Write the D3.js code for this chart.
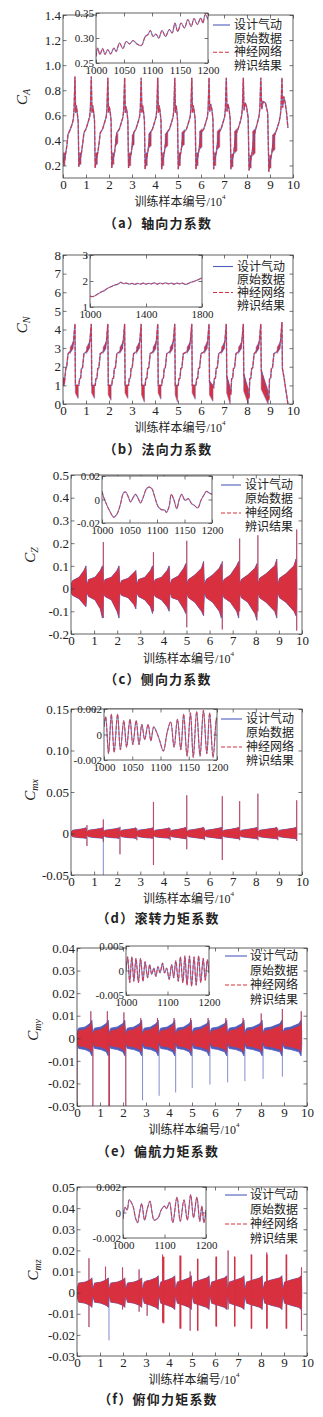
<!DOCTYPE html>
<html><head><meta charset="utf-8">
<script src="https://cdn.jsdelivr.net/npm/d3@7"></script>
<style>body{margin:0;background:#fff}svg{display:block}</style>
</head><body>
<svg id="c" width="323" height="1417"></svg>
<script>
// ---------------- DATA ----------------
const xTickVals = [0,1,2,3,4,5,6,7,8,9,10];
const legendLabels = ["设计气动","原始数据","神经网络","辨识结果"];
const captions = ["（a）轴向力系数","（b）法向力系数","（c）侧向力系数","（d）滚转力矩系数","（e）偏航力矩系数","（f）俯仰力矩系数"];
const xTitle = "训练样本编号/10";

// (a) C_A main series [x(1e4), value]
const caPts = [
 [0,0.22],[0.04,0.26],[0.08,0.25],[0.12,0.30],[0.17,0.36],[0.22,0.45],[0.30,0.48],[0.40,0.53],[0.45,0.57],[0.48,0.64],[0.52,0.91],[0.55,0.62],[0.58,0.68],[0.62,0.62],[0.66,0.55],[0.69,0.19],
 [0.73,0.25],[0.77,0.27],[0.81,0.31],[0.86,0.38],[0.91,0.46],[1.00,0.49],[1.10,0.55],[1.16,0.59],[1.19,0.65],[1.23,0.91],[1.26,0.62],[1.29,0.68],[1.33,0.63],[1.37,0.56],[1.40,0.18],
 [1.44,0.25],[1.48,0.27],[1.52,0.31],[1.57,0.38],[1.62,0.46],[1.72,0.49],[1.82,0.55],[1.88,0.59],[1.91,0.65],[1.95,0.90],[1.98,0.62],[2.01,0.67],[2.05,0.63],[2.09,0.56],[2.12,0.18],
 [2.16,0.25],[2.20,0.27],[2.24,0.30],[2.29,0.38],[2.34,0.46],[2.45,0.49],[2.55,0.55],[2.61,0.59],[2.64,0.65],[2.68,0.90],[2.71,0.62],[2.74,0.67],[2.78,0.63],[2.82,0.56],[2.85,0.18],
 [2.89,0.24],[2.93,0.27],[2.97,0.30],[3.02,0.38],[3.07,0.46],[3.17,0.49],[3.27,0.55],[3.33,0.59],[3.36,0.65],[3.40,0.90],[3.43,0.62],[3.46,0.68],[3.50,0.63],[3.54,0.56],[3.57,0.17],
 [3.61,0.24],[3.65,0.27],[3.69,0.31],[3.74,0.38],[3.79,0.46],[3.89,0.49],[3.99,0.55],[4.05,0.59],[4.08,0.65],[4.12,0.90],[4.15,0.62],[4.18,0.68],[4.22,0.63],[4.26,0.56],[4.29,0.17],
 [4.33,0.24],[4.37,0.27],[4.41,0.31],[4.46,0.38],[4.51,0.46],[4.63,0.49],[4.73,0.55],[4.79,0.59],[4.82,0.65],[4.86,0.90],[4.89,0.62],[4.92,0.68],[4.95,0.63],[4.98,0.56],[5.01,0.17],
 [5.05,0.24],[5.09,0.27],[5.13,0.31],[5.18,0.38],[5.23,0.46],[5.37,0.49],[5.47,0.55],[5.53,0.59],[5.56,0.65],[5.60,0.90],[5.63,0.62],[5.66,0.68],[5.70,0.64],[5.75,0.56],[5.78,0.17],
 [5.82,0.24],[5.86,0.27],[5.90,0.31],[5.95,0.38],[6.00,0.46],[6.12,0.49],[6.22,0.55],[6.28,0.59],[6.31,0.65],[6.35,0.90],[6.38,0.63],[6.42,0.69],[6.47,0.65],[6.52,0.57],[6.55,0.17],
 [6.59,0.24],[6.63,0.27],[6.67,0.31],[6.72,0.38],[6.77,0.46],[6.87,0.49],[6.97,0.55],[7.03,0.59],[7.06,0.65],[7.10,0.90],[7.13,0.63],[7.17,0.69],[7.22,0.65],[7.27,0.57],[7.30,0.17],
 [7.34,0.23],[7.38,0.26],[7.42,0.30],[7.47,0.37],[7.52,0.45],[7.61,0.49],[7.71,0.55],[7.77,0.60],[7.80,0.66],[7.84,0.90],[7.87,0.64],[7.92,0.70],[7.98,0.67],[8.05,0.58],[8.09,0.16],
 [8.13,0.22],[8.17,0.25],[8.21,0.29],[8.26,0.36],[8.31,0.44],[8.38,0.49],[8.48,0.56],[8.53,0.60],[8.56,0.66],[8.60,0.90],[8.64,0.65],[8.70,0.71],[8.80,0.70],[8.90,0.62],[8.95,0.15],
 [8.99,0.22],[9.03,0.25],[9.07,0.29],[9.12,0.36],[9.17,0.43],[9.28,0.48],[9.40,0.55],[9.45,0.60],[9.48,0.66],[9.52,0.90],[9.55,0.66],[9.60,0.75],[9.66,0.70],[9.72,0.62],[9.78,0.50]
];
// (a) thick oscillating stretches [x0, x1, hiStart, hiEnd, loStart, loEnd]
const caBands = [
 [0.02,0.08,0.30,0.30,0.20,0.20],[0.72,0.78,0.30,0.30,0.21,0.21],[1.43,1.49,0.30,0.30,0.21,0.21],[2.15,2.21,0.30,0.30,0.21,0.21],
 [2.88,2.94,0.30,0.30,0.20,0.20],[3.60,3.66,0.30,0.30,0.20,0.20],[4.32,4.38,0.30,0.30,0.20,0.20],[5.04,5.10,0.30,0.30,0.20,0.20],
 [5.81,5.87,0.30,0.30,0.20,0.20],[6.58,6.64,0.30,0.30,0.20,0.20],[7.33,7.39,0.29,0.29,0.19,0.19],[8.12,8.18,0.28,0.28,0.18,0.18],[8.98,9.04,0.28,0.28,0.18,0.18],
 [2.30,2.38,0.43,0.45,0.36,0.38],[3.01,3.09,0.44,0.46,0.35,0.37],[3.73,3.83,0.45,0.47,0.34,0.36],[4.45,4.55,0.45,0.47,0.34,0.36],
 [5.17,5.27,0.46,0.48,0.35,0.37],[5.94,6.04,0.47,0.49,0.33,0.35],[6.71,6.81,0.47,0.49,0.33,0.35],[7.46,7.56,0.47,0.49,0.30,0.32],
 [8.25,8.35,0.47,0.49,0.28,0.30],[9.11,9.21,0.44,0.46,0.31,0.33]
];
// (a) inset, samples 1000-1200
const caInX = [1000,1003,1007,1012,1016,1021,1026,1032,1036,1042,1048,1054,1060,1066,1073,1081,1088,1093,1097,1102,1107,1112,1118,1124,1131,1136,1141,1146,1152,1158,1164,1170,1175,1181,1187,1191,1195,1200];
const caInY = [0.263,0.280,0.267,0.279,0.267,0.277,0.268,0.280,0.273,0.290,0.279,0.293,0.288,0.295,0.288,0.285,0.303,0.307,0.315,0.303,0.308,0.300,0.315,0.303,0.317,0.310,0.330,0.313,0.330,0.320,0.337,0.323,0.339,0.327,0.340,0.330,0.347,0.337];

// (b) C_N main series
const cnPts = [
 [0,1.2],[0.03,1.4],[0.06,1.1],[0.09,1.5],[0.12,1.9],[0.16,2.0],[0.22,2.7],[0.30,2.8],[0.40,3.0],[0.46,3.4],[0.52,4.3],[0.54,1.0],
 [0.69,1.0],[0.72,1.35],[0.77,1.4],[0.80,1.9],[0.85,1.95],[0.91,2.7],[1.01,2.8],[1.11,3.0],[1.17,3.4],[1.23,4.3],[1.25,1.0],
 [1.40,1.0],[1.43,1.35],[1.48,1.4],[1.51,1.9],[1.56,1.95],[1.62,2.7],[1.73,2.8],[1.83,3.0],[1.89,3.4],[1.95,4.3],[1.97,1.0],
 [2.12,1.0],[2.15,1.35],[2.20,1.4],[2.23,1.9],[2.28,1.95],[2.34,2.7],[2.46,2.8],[2.56,3.0],[2.62,3.4],[2.68,4.3],[2.70,1.0],
 [2.85,1.0],[2.88,1.35],[2.93,1.4],[2.96,1.9],[3.01,1.95],[3.07,2.7],[3.18,2.8],[3.28,3.0],[3.34,3.4],[3.40,4.3],[3.42,1.0],
 [3.57,1.0],[3.60,1.35],[3.65,1.4],[3.68,1.9],[3.73,1.95],[3.79,2.7],[3.90,2.8],[4.00,3.0],[4.06,3.4],[4.12,4.3],[4.14,1.0],
 [4.29,1.0],[4.32,1.35],[4.37,1.4],[4.40,1.9],[4.45,1.95],[4.51,2.7],[4.64,2.8],[4.74,3.0],[4.80,3.4],[4.86,4.3],[4.88,1.0],
 [5.01,1.0],[5.04,1.35],[5.09,1.4],[5.12,1.9],[5.17,1.95],[5.23,2.7],[5.38,2.8],[5.48,3.0],[5.54,3.4],[5.60,4.3],[5.62,1.0],
 [5.78,1.0],[5.81,1.35],[5.86,1.4],[5.89,1.9],[5.94,1.95],[6.00,2.7],[6.13,2.8],[6.23,3.0],[6.29,3.4],[6.35,4.3],[6.37,1.2],
 [6.55,0.9],[6.58,1.35],[6.63,1.4],[6.66,1.9],[6.71,1.95],[6.77,2.7],[6.88,2.8],[6.98,3.0],[7.04,3.4],[7.10,4.3],[7.12,1.5],
 [7.30,0.5],[7.33,1.35],[7.38,1.4],[7.41,1.9],[7.46,1.95],[7.52,2.7],[7.62,2.8],[7.72,3.0],[7.78,3.4],[7.84,4.3],[7.86,1.6],
 [8.09,0.3],[8.12,1.35],[8.17,1.4],[8.20,1.9],[8.25,1.95],[8.31,2.7],[8.38,2.8],[8.48,3.0],[8.54,3.4],[8.60,4.3],[8.62,1.8],
 [8.95,0.2],[8.98,1.35],[9.03,1.4],[9.06,1.9],[9.11,1.95],[9.17,2.7],[9.30,2.8],[9.40,3.0],[9.46,3.4],[9.52,4.4],[9.54,1.9],[9.60,1.5],[9.78,0.0]
];
const cnBands = [
 [0.54,0.66,1.0,1.0,0.6,0.3],[1.25,1.37,1.0,1.0,0.6,0.3],[1.97,2.09,1.0,1.0,0.5,0.2],[2.70,2.82,1.0,1.0,0.6,0.3],
 [3.42,3.54,1.0,1.0,0.5,0.1],[4.14,4.26,1.0,1.0,0.6,0.25],[4.88,4.98,1.0,1.0,0.5,0.1],[5.62,5.75,1.0,1.0,0.6,0.25],
 [6.37,6.52,1.2,1.0,0.5,0.15],[7.12,7.27,1.5,0.9,0.6,0.0],[7.86,8.06,1.6,0.8,0.7,0.0],[8.62,8.92,1.8,0.7,0.8,0.0],
 [0.00,0.06,1.4,1.4,1.0,1.0],
 [0.32,0.44,3.05,3.3,2.75,3.0],[1.03,1.15,3.05,3.3,2.75,3.0],[1.75,1.87,3.05,3.3,2.75,3.0],[2.48,2.60,3.05,3.3,2.75,3.0],
 [3.20,3.32,3.05,3.3,2.75,3.0],[3.92,4.04,3.05,3.3,2.75,3.0],[4.66,4.78,3.05,3.3,2.75,3.0],[5.40,5.52,3.05,3.3,2.75,3.0],
 [6.15,6.27,3.05,3.3,2.75,3.0],[6.90,7.02,3.05,3.3,2.75,3.0],[7.64,7.76,3.05,3.3,2.75,3.0],[8.40,8.52,3.05,3.3,2.75,3.0],[9.32,9.44,3.05,3.3,2.75,3.0]
];
const cnInX = [1000,1020,1050,1080,1100,1120,1150,1180,1200,1220,1240,1260,1280,1300,1320,1340,1360,1380,1400,1420,1440,1460,1480,1500,1520,1540,1560,1580,1600,1620,1640,1660,1680,1700,1720,1740,1760,1780,1800];
const cnInY = [1.42,1.40,1.48,1.58,1.62,1.70,1.78,1.85,1.88,1.95,1.90,1.92,1.88,1.91,1.87,1.91,1.88,1.92,1.88,1.91,1.89,1.93,1.88,1.92,1.89,1.93,1.89,1.92,1.88,1.92,1.89,1.92,1.87,1.90,1.95,1.98,2.02,2.07,2.12];

// shared sample positions of the oscillation envelopes (c)-(f)
const envX = [
 0.01,0.07,0.35,0.56,0.65,0.68, 0.70,0.76,1.04,1.27,1.36,1.39, 1.41,1.47,1.75,1.99,2.08,2.11,
 2.13,2.19,2.47,2.72,2.81,2.84, 2.86,2.92,3.20,3.44,3.53,3.56, 3.58,3.64,3.92,4.16,4.25,4.28,
 4.30,4.36,4.64,4.88,4.97,5.00, 5.02,5.08,5.36,5.65,5.74,5.77, 5.79,5.85,6.13,6.42,6.51,6.54,
 6.56,6.62,6.90,7.17,7.26,7.29, 7.31,7.37,7.65,7.96,8.05,8.08, 8.10,8.16,8.44,8.82,8.91,8.94,
 8.96,9.02,9.30,9.65,9.74,9.77];

// (c) C_Z
const czHi = [
 0.02,0.035,0.05,0.08,0.10,0.03, 0.02,0.04,0.05,0.08,0.10,0.03, 0.02,0.04,0.05,0.08,0.10,0.03,
 0.02,0.035,0.045,0.07,0.08,0.03, 0.02,0.04,0.05,0.08,0.10,0.03, 0.02,0.04,0.05,0.08,0.10,0.03,
 0.02,0.04,0.055,0.09,0.11,0.03, 0.02,0.04,0.06,0.09,0.12,0.03, 0.02,0.04,0.06,0.09,0.11,0.03,
 0.02,0.04,0.06,0.10,0.12,0.03, 0.02,0.04,0.06,0.09,0.11,0.03, 0.02,0.045,0.065,0.10,0.13,0.03,
 0.02,0.045,0.065,0.10,0.13,0.03];
const czLo = [
 -0.02,-0.03,-0.045,-0.07,-0.08,-0.03, -0.02,-0.035,-0.05,-0.09,-0.13,-0.03, -0.02,-0.035,-0.05,-0.10,-0.13,-0.03,
 -0.02,-0.03,-0.04,-0.07,-0.09,-0.03, -0.02,-0.035,-0.05,-0.08,-0.11,-0.03, -0.02,-0.035,-0.05,-0.08,-0.10,-0.03,
 -0.02,-0.04,-0.05,-0.09,-0.11,-0.03, -0.02,-0.04,-0.06,-0.10,-0.12,-0.03, -0.02,-0.04,-0.06,-0.10,-0.13,-0.03,
 -0.02,-0.04,-0.06,-0.10,-0.13,-0.03, -0.02,-0.04,-0.06,-0.11,-0.14,-0.03, -0.02,-0.04,-0.06,-0.10,-0.13,-0.03,
 -0.02,-0.04,-0.06,-0.10,-0.12,-0.03];
const czSpikes = [[1.40,0.205,-0.13],[3.57,0.16,-0.10],[5.01,0.21,-0.17],[6.55,0.12,-0.18],[7.30,0.22,-0.10],[8.09,0.235,-0.10],[9.77,0.26,-0.185]];
const czBlueSpikes = [];
const czInX = [1000,1003,1009,1015,1021,1027,1033,1039,1043,1048,1052,1057,1061,1066,1070,1075,1081,1086,1091,1096,1102,1108,1114,1117,1122,1126,1131,1136,1140,1145,1151,1157,1163,1168,1174,1180,1185,1190,1195,1200];
const czInY = [0.007,0.002,-0.005,-0.0106,-0.015,-0.0126,-0.005,0.0055,0.0064,0.002,-0.002,0.002,0.0044,0.0007,-0.003,0.002,0.0092,0.0106,0.009,0.002,-0.006,-0.0086,-0.009,-0.011,-0.006,0.0044,-0.0007,-0.0078,-0.0007,0.0044,-0.0007,0.0007,-0.0036,-0.005,-0.0072,-0.0007,0.0036,0.0069,0.0055,0.0044];

// (d) C_mx
const cmxHi = [
 0.002,0.004,0.005,0.006,0.007,0.002, 0.002,0.004,0.005,0.006,0.007,0.002, 0.002,0.004,0.005,0.006,0.007,0.002,
 0.002,0.004,0.005,0.006,0.007,0.002, 0.002,0.004,0.005,0.006,0.007,0.002, 0.002,0.004,0.005,0.006,0.007,0.002,
 0.002,0.004,0.005,0.0065,0.0075,0.002, 0.002,0.004,0.005,0.0065,0.0075,0.002, 0.002,0.004,0.005,0.0065,0.0075,0.002,
 0.002,0.004,0.005,0.0065,0.0075,0.002, 0.002,0.004,0.005,0.0065,0.0075,0.002, 0.002,0.004,0.005,0.0065,0.0075,0.002,
 0.002,0.004,0.005,0.0065,0.0075,0.002];
const cmxLo = [
 -0.002,-0.004,-0.005,-0.0055,-0.006,-0.002, -0.002,-0.004,-0.005,-0.0055,-0.006,-0.002, -0.002,-0.004,-0.005,-0.0055,-0.006,-0.002,
 -0.002,-0.004,-0.005,-0.0055,-0.006,-0.002, -0.002,-0.004,-0.005,-0.0055,-0.006,-0.002, -0.002,-0.004,-0.005,-0.0055,-0.006,-0.002,
 -0.002,-0.004,-0.005,-0.006,-0.0065,-0.002, -0.002,-0.004,-0.005,-0.006,-0.0065,-0.002, -0.002,-0.004,-0.005,-0.006,-0.0065,-0.002,
 -0.002,-0.004,-0.005,-0.006,-0.0065,-0.002, -0.002,-0.004,-0.005,-0.006,-0.0065,-0.002, -0.002,-0.004,-0.005,-0.006,-0.0065,-0.002,
 -0.002,-0.004,-0.005,-0.006,-0.0065,-0.002];
const cmxSpikes = [[0.69,0.010,-0.015],[1.40,0.017,-0.010],[2.12,0.008,-0.025],[2.85,0.006,-0.008],[3.57,0.038,-0.038],[4.29,0.006,-0.008],[5.01,0.046,-0.019],[5.78,0.006,-0.008],[6.55,0.045,-0.032],[7.30,0.039,-0.008],[8.09,0.048,-0.008],[8.95,0.006,-0.008],[9.77,0.040,-0.009]];
const cmxBlueSpikes = [[1.40,0,-0.05]];
const cmxInX = [1000,1003,1008,1013,1018,1024,1029,1035,1040,1046,1051,1057,1062,1067,1072,1078,1083,1088,1093,1098,1105,1112,1118,1124,1130,1136,1141,1147,1153,1158,1164,1170,1176,1182,1187,1193,1199,1200];
const cmxInY = [0.0006,0.0014,-0.0015,0.0016,-0.0014,0.0016,-0.0012,0.0011,-0.0010,0.0012,-0.0008,0.0011,-0.0008,0.0008,-0.0004,0.0008,-0.0005,0.0006,0.0002,-0.0004,-0.0013,0.0002,0.0010,-0.0010,0.0012,-0.0012,0.0016,-0.0017,0.0017,-0.0018,0.0018,-0.0017,0.0019,-0.0015,0.0017,-0.0018,0.0013,0.0011];

// (e) C_my
const cmyHi = [
 0.002,0.0035,0.004,0.0055,0.007,0.002, 0.002,0.0035,0.004,0.0055,0.007,0.002, 0.002,0.0035,0.004,0.0055,0.007,0.002,
 0.002,0.0035,0.004,0.0055,0.007,0.002, 0.002,0.0035,0.004,0.0055,0.007,0.002, 0.002,0.0035,0.004,0.0055,0.007,0.002,
 0.002,0.0035,0.004,0.0055,0.007,0.002, 0.002,0.0035,0.004,0.0055,0.007,0.002, 0.002,0.0035,0.004,0.0055,0.007,0.002,
 0.002,0.0035,0.004,0.0055,0.007,0.002, 0.002,0.0035,0.004,0.0055,0.007,0.002, 0.002,0.0035,0.004,0.0055,0.007,0.002,
 0.002,0.0035,0.004,0.0055,0.007,0.002];
const cmyLo = [
 -0.002,-0.0035,-0.004,-0.005,-0.0065,-0.002, -0.002,-0.0035,-0.004,-0.005,-0.0065,-0.002, -0.002,-0.0035,-0.004,-0.005,-0.0065,-0.002,
 -0.002,-0.0035,-0.004,-0.005,-0.0065,-0.002, -0.002,-0.0035,-0.004,-0.005,-0.0065,-0.002, -0.002,-0.0035,-0.004,-0.005,-0.0065,-0.002,
 -0.002,-0.0035,-0.004,-0.005,-0.0065,-0.002, -0.002,-0.0035,-0.004,-0.005,-0.0065,-0.002, -0.002,-0.0035,-0.004,-0.005,-0.0065,-0.002,
 -0.002,-0.0035,-0.004,-0.005,-0.0065,-0.002, -0.002,-0.0035,-0.004,-0.005,-0.0065,-0.002, -0.002,-0.0035,-0.004,-0.005,-0.0065,-0.002,
 -0.002,-0.0035,-0.004,-0.005,-0.0065,-0.002];
const cmyBlueHi = [
 0.003,0.0045,0.005,0.0065,0.008,0.003, 0.003,0.0045,0.005,0.0065,0.008,0.003, 0.003,0.0045,0.005,0.0065,0.008,0.003,
 0.003,0.0045,0.005,0.0065,0.008,0.003, 0.003,0.0045,0.005,0.0065,0.008,0.003, 0.003,0.0045,0.005,0.0065,0.008,0.003,
 0.003,0.0045,0.005,0.0065,0.008,0.003, 0.003,0.0045,0.005,0.0065,0.008,0.003, 0.003,0.0045,0.005,0.0065,0.008,0.003,
 0.003,0.0045,0.005,0.0065,0.008,0.003, 0.003,0.0045,0.005,0.0065,0.008,0.003, 0.003,0.0045,0.005,0.0065,0.008,0.003,
 0.003,0.0045,0.005,0.0065,0.008,0.003];
const cmyBlueLo = [
 -0.003,-0.0045,-0.005,-0.006,-0.0078,-0.003, -0.003,-0.0045,-0.005,-0.006,-0.0078,-0.003, -0.003,-0.0045,-0.005,-0.006,-0.0078,-0.003,
 -0.003,-0.0045,-0.005,-0.006,-0.0078,-0.003, -0.003,-0.0045,-0.005,-0.006,-0.0078,-0.003, -0.003,-0.0045,-0.005,-0.006,-0.0078,-0.003,
 -0.003,-0.0045,-0.005,-0.006,-0.0078,-0.003, -0.003,-0.0045,-0.005,-0.006,-0.0078,-0.003, -0.003,-0.0045,-0.005,-0.006,-0.0078,-0.003,
 -0.003,-0.0045,-0.005,-0.006,-0.0078,-0.003, -0.003,-0.0045,-0.005,-0.006,-0.0078,-0.003, -0.003,-0.0045,-0.005,-0.006,-0.0078,-0.003,
 -0.003,-0.0045,-0.005,-0.006,-0.0078,-0.003];
const cmySpikes = [[0.0,0,-0.03],[0.69,0,-0.03],[1.39,0,-0.03],[1.41,0,-0.03],[2.12,0,-0.03],
 [0.60,0.012,0],[1.32,0.012,0],[2.04,0.0115,0],[2.77,0.009,0],[3.50,0.009,0],[4.22,0.009,0],[4.94,0.009,0],[5.70,0.009,0],[6.47,0.009,0],[7.22,0.009,0],[8.01,0.011,0],[8.93,0.013,0],[9.75,0.012,0]];
const cmyBlueSpikes = [[2.85,0,-0.0275],[3.57,0,-0.0255],[4.29,0,-0.024],[5.01,0,-0.022],[5.78,0,-0.0205],[6.55,0,-0.0195],[7.30,0,-0.019],[8.09,0,-0.018],[8.93,0,-0.017]];
const cmyInX = [1000,1004,1009,1014,1019,1024,1030,1035,1041,1046,1052,1057,1062,1067,1072,1077,1082,1088,1093,1098,1104,1110,1115,1120,1126,1131,1137,1142,1147,1153,1158,1164,1169,1175,1180,1186,1191,1196,1200];
const cmyInY = [0,0.0028,-0.0025,0.0028,-0.0022,0.0025,-0.0025,0.0025,-0.0022,0.0018,-0.0015,0.0012,-0.0008,0.0005,-0.0012,0.0008,-0.0005,0.0015,-0.0005,0.0005,-0.0018,0.0012,-0.0015,0.0020,-0.0022,0.0028,-0.0025,0.0030,-0.0030,0.0030,-0.0032,0.0028,-0.0030,0.0030,-0.0025,0.0025,-0.0020,0.0022,-0.0005];

// (f) C_mz
const cmzHi = [
 0.002,0.0045,0.005,0.006,0.007,0.002, 0.002,0.0045,0.005,0.006,0.007,0.002, 0.002,0.0045,0.005,0.006,0.007,0.002,
 0.002,0.0045,0.005,0.006,0.007,0.002, 0.002,0.005,0.006,0.007,0.008,0.002, 0.002,0.005,0.006,0.007,0.008,0.002,
 0.002,0.005,0.006,0.007,0.008,0.002, 0.002,0.005,0.006,0.007,0.008,0.002, 0.002,0.005,0.006,0.007,0.008,0.002,
 0.002,0.005,0.006,0.007,0.008,0.002, 0.002,0.005,0.006,0.007,0.008,0.002, 0.002,0.005,0.006,0.007,0.008,0.002,
 0.002,0.005,0.006,0.007,0.008,0.002];
const cmzLo = [
 -0.002,-0.0045,-0.005,-0.006,-0.007,-0.002, -0.002,-0.0045,-0.005,-0.006,-0.007,-0.002, -0.002,-0.0045,-0.005,-0.006,-0.007,-0.002,
 -0.002,-0.0045,-0.005,-0.006,-0.007,-0.002, -0.002,-0.005,-0.006,-0.007,-0.008,-0.002, -0.002,-0.005,-0.006,-0.007,-0.008,-0.002,
 -0.002,-0.005,-0.006,-0.007,-0.008,-0.002, -0.002,-0.005,-0.006,-0.007,-0.008,-0.002, -0.002,-0.005,-0.006,-0.007,-0.008,-0.002,
 -0.002,-0.005,-0.006,-0.007,-0.008,-0.002, -0.002,-0.005,-0.006,-0.007,-0.008,-0.002, -0.002,-0.005,-0.006,-0.007,-0.008,-0.002,
 -0.002,-0.005,-0.006,-0.007,-0.008,-0.002];
const cmzSpikes = [[0.52,0.0163,-0.0163],[1.24,0.0123,-0.006],[1.98,0.012,-0.008],[2.70,0.011,-0.009],[3.05,0.006,-0.011],[3.72,0.018,-0.014],[4.49,0.0175,-0.017],[4.92,0.010,-0.018],[5.24,0.016,-0.018],[6.05,0.017,-0.016],[6.57,0.020,-0.008],[6.85,0.017,-0.016],[7.58,0.018,-0.017],[8.25,0.019,-0.017],[9.10,0.018,-0.017],[9.76,0.012,-0.018]];
const cmzBlueSpikes = [[1.39,0.004,-0.0226]];
const cmzCols = [[3.72,3.80,0.017,-0.0145],[4.46,4.54,0.0175,-0.017],[5.22,5.28,0.016,-0.018],[6.03,6.09,0.017,-0.016],[6.83,6.89,0.017,-0.016],[7.56,7.62,0.018,-0.017],[8.23,8.29,0.018,-0.017],[9.08,9.14,0.018,-0.017]];
const cmzInX = [1000,1005,1010,1015,1020,1025,1030,1035,1040,1045,1052,1058,1065,1070,1075,1085,1092,1100,1105,1112,1120,1130,1138,1147,1155,1163,1170,1178,1185,1190,1195,1200];
const cmzInY = [-0.0005,0.0004,0.0002,0.0010,0.0008,0.0004,-0.0004,-0.0008,0.0000,0.0007,-0.0006,0.0002,0.0009,0.0000,-0.0006,-0.0004,0.0002,0.0005,0.0003,0.0008,-0.0008,0.0012,-0.0007,0.0010,-0.0006,0.0014,-0.0004,0.0012,-0.0007,0.0005,-0.0008,0.0002];

// ---------------- DRAW ----------------
const RED = "#d8303f", BLUE = "#4f5cbc", FRAME = "#3a3a3a";
const SERIF = "'Liberation Serif','Times New Roman',serif";
const CJK = "'Liberation Serif','Noto Sans CJK SC',sans-serif";
const svg = d3.select("#c");
const defs = svg.append("defs");
const fmt = n => d => Math.abs(d) < 1e-12 ? "0" : (d < 0 ? "-" : "") + Math.abs(d).toFixed(n);
let clipN = 0;

function styleAxis(g, size) {
  g.select(".domain").remove();
  g.selectAll("line").attr("stroke", FRAME).attr("stroke-width", 0.7);
  g.selectAll("text").attr("font-family", SERIF).attr("font-size", size).attr("fill", "#222");
}

function frameAxes(g, x, y, box, xt, yt, xf, yf, size, padX, padY) {
  g.append("rect").attr("x", box.L).attr("y", box.T).attr("width", box.R - box.L).attr("height", box.B - box.T)
    .attr("fill", "none").attr("stroke", FRAME).attr("stroke-width", 0.8);
  g.append("g").attr("transform", `translate(0,${box.B})`)
    .call(d3.axisBottom(x).tickValues(xt).tickSize(-3.5).tickPadding(padX).tickFormat(xf)).call(a => styleAxis(a, size));
  g.append("g").attr("transform", `translate(0,${box.T})`)
    .call(d3.axisTop(x).tickValues(xt).tickSize(-3.5).tickFormat("")).call(a => styleAxis(a, size));
  g.append("g").attr("transform", `translate(${box.L},0)`)
    .call(d3.axisLeft(y).tickValues(yt).tickSize(-3.5).tickPadding(padY).tickFormat(yf)).call(a => styleAxis(a, size));
  g.append("g").attr("transform", `translate(${box.R},0)`)
    .call(d3.axisRight(y).tickValues(yt).tickSize(-3.5).tickFormat("")).call(a => styleAxis(a, size));
}

function clipFor(box) {
  const id = "clip" + (clipN++);
  defs.append("clipPath").attr("id", id).append("rect")
    .attr("x", box.L).attr("y", box.T).attr("width", box.R - box.L).attr("height", box.B - box.T);
  return `url(#${id})`;
}

function drawPair(g, line, data, w) {
  g.append("path").datum(data).attr("d", line).attr("fill", "none").attr("stroke", BLUE).attr("stroke-width", w + 0.3).attr("opacity", 0.75);
  g.append("path").datum(data).attr("d", line).attr("fill", "none").attr("stroke", RED).attr("stroke-width", w).attr("stroke-dasharray", "4,1.5");
}

function panel(cfg) {
  const g = svg.append("g");
  const box = cfg.box;
  const x = d3.scaleLinear().domain([0, 10]).range([box.L, box.R]);
  const y = d3.scaleLinear().domain(cfg.yDom).range([box.B, box.T]);
  const dg = g.append("g").attr("clip-path", clipFor(box));
  cfg.draw(dg, x, y);
  frameAxes(g, x, y, box, xTickVals, cfg.yTicks, d3.format("d"), cfg.yFmt, 13, 2, 2);

  // inset
  const ib = cfg.inset.box;
  const ix = d3.scaleLinear().domain(cfg.inset.xDom).range([ib.L, ib.R]);
  const iy = d3.scaleLinear().domain(cfg.inset.yDom).range([ib.B, ib.T]);
  g.append("rect").attr("x", ib.L).attr("y", ib.T).attr("width", ib.R - ib.L).attr("height", ib.B - ib.T).attr("fill", "#fff");
  const ig = g.append("g").attr("clip-path", clipFor(ib));
  const il = d3.line().x((d, i) => ix(cfg.inset.xs[i])).y(d => iy(d)).curve(d3.curveCatmullRom);
  drawPair(ig, il, cfg.inset.ys, 0.9);
  frameAxes(g, ix, iy, ib, cfg.inset.xTicks, cfg.inset.yTicks, d3.format("d"), cfg.inset.yFmt, 11, 3.5, 2);

  // legend
  const lg = cfg.legend;
  legendLabels.forEach((t, i) => {
    g.append("text").attr("x", lg.tx).attr("y", lg.rows[i]).attr("dominant-baseline", "central")
      .attr("font-family", CJK).attr("font-size", 12).attr("fill", "#222").text(t);
  });
  g.append("line").attr("x1", lg.x1).attr("x2", lg.x2).attr("y1", lg.rows[0]).attr("y2", lg.rows[0]).attr("stroke", BLUE).attr("stroke-width", 1.1);
  g.append("line").attr("x1", lg.x1).attr("x2", lg.x2).attr("y1", lg.rows[2]).attr("y2", lg.rows[2]).attr("stroke", RED).attr("stroke-width", 1.1).attr("stroke-dasharray", "4,2");

  // y label
  const yl = g.append("text").attr("transform", `translate(${cfg.yl[0]},${cfg.yl[1]}) rotate(-90)`)
    .attr("text-anchor", "middle").attr("dominant-baseline", "central")
    .attr("font-family", SERIF).attr("font-style", "italic").attr("font-size", 15).attr("fill", "#222");
  yl.append("tspan").text("C");
  yl.append("tspan").attr("font-size", 10).attr("dy", 4).text(cfg.ysub);

  // x title
  const xt = g.append("text").attr("x", (box.L + box.R) / 2 + 2).attr("y", cfg.xtY).attr("text-anchor", "middle")
    .attr("dominant-baseline", "central").attr("font-family", CJK).attr("font-size", 12).attr("fill", "#222");
  xt.append("tspan").text(xTitle);
  xt.append("tspan").attr("font-size", 7).attr("dy", -5).text("4");

  // caption
  g.append("text").attr("x", 158).attr("y", cfg.capY).attr("text-anchor", "middle").attr("dominant-baseline", "central")
    .attr("font-family", "'Noto Sans CJK SC',sans-serif").attr("font-weight", 700).attr("font-size", 13)
    .attr("letter-spacing", 1.2).attr("fill", "#222").text(cfg.caption);
}

function drawLineSeries(pts, bands) {
  return (g, x, y) => {
    const band = b => `M${x(b[0])},${y(b[2])}L${x(b[1])},${y(b[3])}L${x(b[1])},${y(b[5])}L${x(b[0])},${y(b[4])}Z`;
    g.selectAll(null).data(bands).enter().append("path").attr("d", band).attr("fill", BLUE).attr("stroke", BLUE).attr("stroke-width", 1.2).attr("opacity", 0.5);
    g.selectAll(null).data(bands).enter().append("path").attr("d", band).attr("fill", RED);
    const line = d3.line().x(d => x(d[0])).y(d => y(d[1]));
    drawPair(g, line, pts, 1.1);
  };
}

function drawEnvSeries(hi, lo, bhi, blo, spikes, bspikes, cols) {
  return (g, x, y) => {
    const blueArea = d3.area().x((d, i) => x(envX[i])).y0((d, i) => y(blo[i])).y1((d, i) => y(bhi[i]));
    g.append("path").datum(envX).attr("d", blueArea).attr("fill", BLUE).attr("stroke", BLUE).attr("stroke-width", 0.8);
    bspikes.forEach(s => g.append("line").attr("x1", x(s[0])).attr("x2", x(s[0])).attr("y1", y(s[1])).attr("y2", y(s[2]))
      .attr("stroke", BLUE).attr("stroke-width", 1).attr("opacity", 0.7));
    spikes.forEach(s => g.append("line").attr("x1", x(s[0])).attr("x2", x(s[0])).attr("y1", y(s[1])).attr("y2", y(s[2]))
      .attr("stroke", BLUE).attr("stroke-width", 1.2).attr("opacity", 0.6));
    const redArea = d3.area().x((d, i) => x(envX[i])).y0((d, i) => y(lo[i])).y1((d, i) => y(hi[i]));
    g.append("path").datum(envX).attr("d", redArea).attr("fill", RED);
    cols.forEach(c => g.append("rect").attr("x", x(c[0])).attr("width", x(c[1]) - x(c[0])).attr("y", y(c[2])).attr("height", y(c[3]) - y(c[2])).attr("fill", RED));
    spikes.forEach(s => g.append("line").attr("x1", x(s[0])).attr("x2", x(s[0])).attr("y1", y(s[1])).attr("y2", y(s[2]))
      .attr("stroke", RED).attr("stroke-width", 1).attr("opacity", 0.8));
  };
}

panel({
  box: {L: 63, R: 293, T: 15, B: 178}, yDom: [0.1, 1.4], yTicks: [0.2,0.4,0.6,0.8,1.0,1.2,1.4], yFmt: fmt(1),
  draw: drawLineSeries(caPts, caBands),
  inset: {box: {L: 96, R: 208, T: 13, B: 63}, xDom: [1000, 1200], yDom: [0.25, 0.35], xTicks: [1000,1050,1100,1150,1200], yTicks: [0.25,0.30,0.35], yFmt: fmt(2), xs: caInX, ys: caInY},
  legend: {x1: 213, x2: 230, tx: 234, rows: [25, 38.7, 52.3, 66]},
  yl: [22, 97], ysub: "A", xtY: 202, capY: 222, caption: captions[0]
});
panel({
  box: {L: 63, R: 293, T: 255, B: 404}, yDom: [0, 8], yTicks: [0,1,2,3,4,5,6,7,8], yFmt: fmt(0),
  draw: drawLineSeries(cnPts, cnBands),
  inset: {box: {L: 90, R: 202, T: 255, B: 307}, xDom: [1000, 1800], yDom: [1, 3], xTicks: [1000,1400,1800], yTicks: [1,2,3], yFmt: fmt(0), xs: cnInX, ys: cnInY},
  legend: {x1: 213, x2: 233, tx: 237, rows: [266.5, 279.5, 292.5, 305.5]},
  yl: [22, 325], ysub: "N", xtY: 428, capY: 448, caption: captions[1]
});
panel({
  box: {L: 71, R: 302, T: 475, B: 634}, yDom: [-0.2, 0.5], yTicks: [-0.2,-0.1,0,0.1,0.2,0.3,0.4,0.5], yFmt: fmt(1),
  draw: drawEnvSeries(czHi, czLo, czHi, czLo, czSpikes, czBlueSpikes, []),
  inset: {box: {L: 102, R: 212, T: 476, B: 523}, xDom: [1000, 1200], yDom: [-0.02, 0.02], xTicks: [1000,1050,1100,1150,1200], yTicks: [-0.02,0,0.02], yFmt: fmt(2), xs: czInX, ys: czInY},
  legend: {x1: 221, x2: 241, tx: 245, rows: [485, 499, 513, 527]},
  yl: [30, 555], ysub: "Z", xtY: 659, capY: 678, caption: captions[2]
});
panel({
  box: {L: 71, R: 302, T: 709, B: 875}, yDom: [-0.05, 0.15], yTicks: [-0.05,0,0.05,0.10,0.15], yFmt: fmt(2),
  draw: drawEnvSeries(cmxHi, cmxLo, cmxHi, cmxLo, cmxSpikes, cmxBlueSpikes, []),
  inset: {box: {L: 104, R: 217, T: 709, B: 760}, xDom: [1000, 1200], yDom: [-0.002, 0.002], xTicks: [1000,1050,1100,1150,1200], yTicks: [-0.002,0,0.002], yFmt: fmt(3), xs: cmxInX, ys: cmxInY},
  legend: {x1: 221, x2: 242, tx: 246, rows: [719, 733, 747, 761]},
  yl: [30, 790], ysub: "mx", xtY: 899, capY: 917, caption: captions[3]
});
panel({
  box: {L: 77, R: 307, T: 948, B: 1106}, yDom: [-0.03, 0.04], yTicks: [-0.03,-0.02,-0.01,0,0.01,0.02,0.03,0.04], yFmt: fmt(2),
  draw: drawEnvSeries(cmyHi, cmyLo, cmyBlueHi, cmyBlueLo, cmySpikes, cmyBlueSpikes, []),
  inset: {box: {L: 126, R: 209, T: 946, B: 995}, xDom: [1000, 1200], yDom: [-0.005, 0.005], xTicks: [1000,1100,1200], yTicks: [-0.005,0,0.005], yFmt: fmt(3), xs: cmyInX, ys: cmyInY},
  legend: {x1: 225, x2: 247, tx: 250, rows: [956, 970.5, 985, 999.5]},
  yl: [33, 1030], ysub: "my", xtY: 1130, capY: 1150, caption: captions[4]
});
panel({
  box: {L: 77, R: 307, T: 1187, B: 1356}, yDom: [-0.03, 0.05], yTicks: [-0.03,-0.02,-0.01,0,0.01,0.02,0.03,0.04,0.05], yFmt: fmt(2),
  draw: drawEnvSeries(cmzHi, cmzLo, cmzHi, cmzLo, cmzSpikes, cmzBlueSpikes, cmzCols),
  inset: {box: {L: 123, R: 206, T: 1187, B: 1238}, xDom: [1000, 1200], yDom: [-0.002, 0.002], xTicks: [1000,1100,1200], yTicks: [-0.002,0,0.002], yFmt: fmt(3), xs: cmzInX, ys: cmzInY},
  legend: {x1: 225, x2: 247, tx: 250, rows: [1195, 1209.5, 1224, 1238.5]},
  yl: [33, 1270], ysub: "mz", xtY: 1380, capY: 1398, caption: captions[5]
});
</script>
</body></html>
